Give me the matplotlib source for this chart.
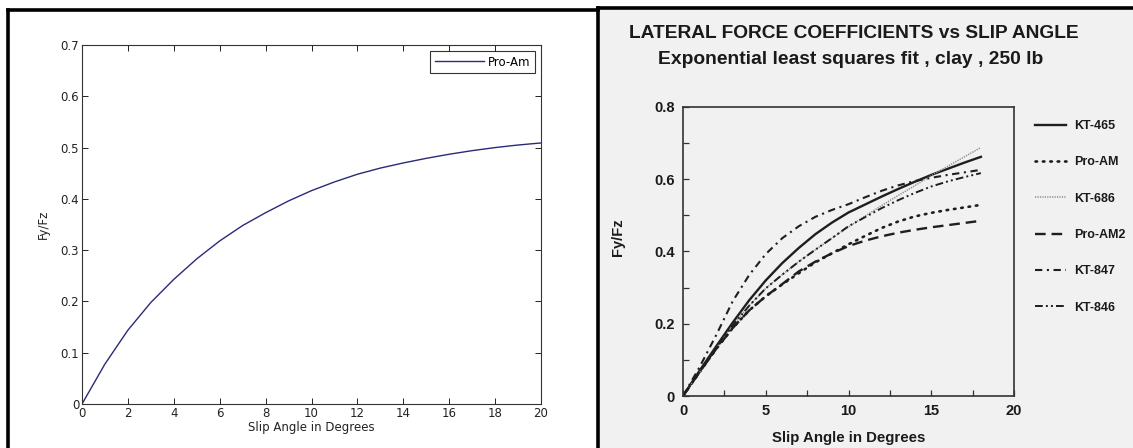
import matplotlib
matplotlib.use("Agg")
import matplotlib.pyplot as plt
from matplotlib.lines import Line2D
from matplotlib.patches import Rectangle
from matplotlib.ticker import MultipleLocator

W, H = 1133, 448

# left figure: fitted Pro-Am curve
slip_left = [0, 1, 2, 3, 4, 5, 6, 7, 8, 9, 10, 11, 12, 13, 14, 15, 16, 17, 18, 19, 20]
proam_left = [0.0, 0.078, 0.144, 0.198, 0.243, 0.283, 0.318, 0.348, 0.373, 0.396, 0.416,
              0.433, 0.448, 0.460, 0.470, 0.479, 0.487, 0.494, 0.500, 0.505, 0.509]

# right figure: scanned comparison of tyres
slip = [0, 1, 2, 3, 4, 5, 6, 7, 8, 9, 10, 11, 12, 13, 14, 15, 16, 17, 18]
kt465 = [0.0, 0.070, 0.137, 0.203, 0.265, 0.320, 0.368, 0.410, 0.448, 0.480, 0.508,
         0.530, 0.552, 0.573, 0.593, 0.612, 0.629, 0.646, 0.662]
proam = [0.0, 0.066, 0.130, 0.188, 0.237, 0.276, 0.309, 0.340, 0.370, 0.395, 0.420,
         0.443, 0.465, 0.483, 0.497, 0.507, 0.515, 0.522, 0.529]
kt686 = [0.0, 0.066, 0.131, 0.195, 0.250, 0.298, 0.336, 0.372, 0.405, 0.437, 0.468,
         0.498, 0.527, 0.555, 0.582, 0.610, 0.636, 0.662, 0.688]
proam2 = [0.0, 0.066, 0.130, 0.188, 0.237, 0.276, 0.310, 0.345, 0.372, 0.395, 0.415,
          0.430, 0.442, 0.452, 0.460, 0.467, 0.473, 0.479, 0.485]
kt847 = [0.0, 0.080, 0.168, 0.262, 0.335, 0.393, 0.437, 0.470, 0.496, 0.515, 0.531,
         0.550, 0.568, 0.583, 0.595, 0.604, 0.612, 0.619, 0.626]
kt846 = [0.0, 0.066, 0.131, 0.195, 0.250, 0.298, 0.336, 0.372, 0.405, 0.437, 0.470,
         0.495, 0.520, 0.542, 0.562, 0.580, 0.594, 0.606, 0.617]

fig = plt.figure(figsize=(W / 100, H / 100), dpi=100)
fig.patch.set_facecolor("white")

def fx(px):
    return px / W

def fy(py):
    return 1 - py / H

# scanned page behind the right figure
fig.add_artist(Rectangle((fx(600), 0), 1 - fx(600), fy(9), transform=fig.transFigure,
                         facecolor="#f1f1f1", edgecolor="none", zorder=0))
# frame lines around the two panels
for xs, ys in [([8, 8], [10, H]), ([8, 598], [10, 10]), ([598, 598], [8, H]), ([598, W], [8, 8])]:
    fig.add_artist(Line2D([fx(v) for v in xs], [fy(v) for v in ys], transform=fig.transFigure,
                          color="black", lw=2.6, solid_capstyle="projecting"))

# ---- left: matlab style plot
axl = fig.add_axes([fx(82), fy(404), fx(541) - fx(82), fy(45) - fy(404)])
axl.plot(slip_left, proam_left, color="#2a2a78", lw=1.0, label="Pro-Am")
axl.set_xlim(0, 20)
axl.set_ylim(0, 0.7)
axl.set_xticks(range(0, 21, 2))
axl.set_yticks([0, 0.1, 0.2, 0.3, 0.4, 0.5, 0.6, 0.7])
axl.set_yticklabels(["0", "0.1", "0.2", "0.3", "0.4", "0.5", "0.6", "0.7"])
axl.tick_params(direction="in", top=True, right=True, length=4, width=0.7,
                labelsize=8.5, colors="#222222", pad=2)
for sp in axl.spines.values():
    sp.set_linewidth(0.8)
    sp.set_color("#333333")
axl.set_xlabel("Slip Angle in Degrees", fontsize=8.5, labelpad=1, color="#222222")
axl.set_ylabel("Fy/Fz", fontsize=8.5, labelpad=8, color="#222222")
leg = axl.legend(loc="upper right", fontsize=8.5, fancybox=False, handlelength=4.2,
                 borderaxespad=0.5, handletextpad=0.3, borderpad=0.4)
leg.get_frame().set_edgecolor("black")
leg.get_frame().set_linewidth(0.8)

# ---- right: lateral force coefficients
bold = dict(family="Liberation Sans", weight="bold")
fig.text(fx(854), fy(33), "LATERAL FORCE COEFFICIENTS vs SLIP ANGLE", ha="center", va="center",
         fontsize=13.8, color="#1a1a1a", **bold)
fig.text(fx(851), fy(60), "Exponential least squares fit , clay , 250 lb", ha="center",
         va="center", fontsize=13.9, color="#1a1a1a", **bold)

axr = fig.add_axes([fx(683), fy(396), fx(1014) - fx(683), fy(107) - fy(396)])
axr.set_facecolor("none")
ink = "#1e1e1e"
axr.plot(slip, kt465, color=ink, lw=1.7, ls="-", label="KT-465")
axr.plot(slip, proam, color=ink, lw=1.9, ls=(0, (0.6, 2.2)), dash_capstyle="round", label="Pro-AM")
axr.plot(slip, kt686, color="#8a8a8a", lw=1.1, ls=(0, (0.8, 0.8)), label="KT-686")
axr.plot(slip, proam2, color=ink, lw=1.7, ls=(0, (4.5, 2.5)), label="Pro-AM2")
axr.plot(slip, kt847, color=ink, lw=1.5, ls=(0, (3.5, 2.2, 1, 2.2)), label="KT-847")
axr.plot(slip, kt846, color=ink, lw=1.4, ls=(0, (4, 1.6, 1, 1.6, 1, 1.6)), label="KT-846")
axr.set_xlim(0, 20)
axr.set_ylim(0, 0.8)
axr.set_xticks([0, 5, 10, 15, 20])
axr.set_yticks([0, 0.2, 0.4, 0.6, 0.8])
axr.set_yticklabels(["0", "0.2", "0.4", "0.6", "0.8"])
axr.xaxis.set_minor_locator(MultipleLocator(2.5))
axr.yaxis.set_minor_locator(MultipleLocator(0.1))
axr.tick_params(which="both", direction="in", length=4, width=0.9, colors="#333333")
axr.tick_params(which="major", labelsize=10.5, labelcolor="#1a1a1a", pad=6)
for lab in axr.get_xticklabels() + axr.get_yticklabels():
    lab.set_fontfamily("Liberation Sans")
    lab.set_fontweight("bold")
for sp in axr.spines.values():
    sp.set_linewidth(1.2)
    sp.set_color("#333333")
axr.set_xlabel("Slip Angle in Degrees", fontsize=10.8, labelpad=9, color="#1a1a1a", **bold)
axr.set_ylabel("Fy/Fz", fontsize=10.5, color="#1a1a1a", **bold)
axr.yaxis.set_label_coords(-0.175, 0.55)
axr.legend(loc="upper left", bbox_to_anchor=(fx(1035), fy(120)), bbox_transform=fig.transFigure,
           frameon=False, handlelength=2.5, handletextpad=0.6, labelspacing=1.95,
           borderaxespad=0, borderpad=0, labelcolor="#1a1a1a",
           prop=dict(family="Liberation Sans", weight="bold", size=9))

fig.savefig("out.png", dpi=100)
